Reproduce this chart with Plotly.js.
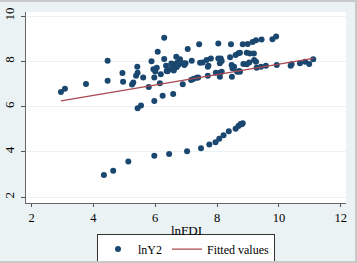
<!DOCTYPE html>
<html><head><meta charset="utf-8">
<script src="https://cdn.plot.ly/plotly-3.0.1.min.js"></script>
<style>
html,body{margin:0;padding:0;background:#EAF2F3;}
#wrap{position:relative;width:357px;height:263px;}
#chart{width:357px;height:263px;}
#frame{position:absolute;left:0;top:0;width:357px;height:263px;box-sizing:border-box;border-top:2px solid #c8c8c8;border-right:2px solid #c8c8c8;border-bottom:2px solid #c8c8c8;pointer-events:none;}
</style></head>
<body><div id="wrap"><div id="chart"></div><div id="frame"></div></div>
<script>
const lnFDI = [2.95,3.08,3.76,4.46,4.46,4.94,4.96,5.25,5.29,5.38,5.43,5.42,5.61,5.79,5.43,5.54,
5.88,5.97,5.94,6.05,6.08,6.15,6.24,5.97,6.29,6.29,6.40,6.18,6.58,6.68,6.80,
6.50,6.55,6.58,6.62,6.65,6.70,6.72,6.60,6.75,6.52,6.35,6.37,6.00,
7.05,7.42,8.04,8.45,8.83,8.99,9.15,9.26,9.44,9.79,9.91,
6.91,6.98,7.18,7.45,7.53,7.66,7.80,8.04,8.12,8.09,8.15,8.42,8.60,8.69,8.74,8.96,9.06,9.19,
6.94,7.72,7.70,8.47,8.55,8.50,8.85,8.96,9.04,9.20,9.26,9.28,9.42,9.58,9.93,10.38,10.41,10.68,10.85,10.98,11.11,
6.89,7.16,7.23,7.34,7.39,7.70,7.96,8.09,8.15,8.09,8.48,8.65,8.72,8.74,
4.34,4.64,5.13,5.97,6.45,7.03,7.48,7.75,7.95,8.07,8.21,8.38,8.60,8.69,8.76,8.83,8.80];
const lnY2 = [6.64,6.79,7.00,8.03,7.14,7.48,7.10,6.98,7.07,7.36,7.50,7.76,7.29,6.87,5.93,6.05,
8.00,7.29,7.65,7.72,8.42,7.03,6.48,6.25,9.04,8.10,7.56,7.43,6.56,8.20,8.09,
7.65,7.72,7.80,7.68,7.88,7.75,7.95,7.60,7.85,7.90,7.81,7.57,7.55,
8.54,8.75,8.79,8.76,8.76,8.77,8.85,8.93,8.97,8.98,9.10,
7.91,7.91,8.03,7.94,7.95,8.06,8.13,8.13,8.13,7.91,8.01,8.18,8.28,8.36,8.38,8.38,8.35,8.35,
7.84,7.81,7.76,7.84,7.76,7.69,7.88,7.87,7.95,8.06,7.98,7.72,7.76,7.81,7.84,7.81,7.87,7.91,7.98,7.88,8.09,
6.99,7.17,7.22,7.28,7.29,7.36,7.50,7.50,7.54,7.32,7.32,7.54,7.57,7.54,
2.98,3.17,3.57,3.83,3.91,4.03,4.16,4.32,4.42,4.58,4.73,4.91,5.02,5.14,5.23,5.26,5.22];
const fitX = [2.95, 11.11];
const fitY = [6.25, 8.13];
const xTicks = [2,4,6,8,10,12];
const yTicks = [2,4,6,8,10];
const seriesNames = ["lnY2", "Fitted values"];
const xTitle = "lnFDI";

const font = "Liberation Serif, Times New Roman, serif";
const traces = [
  {x: lnFDI, y: lnY2, type: "scatter", mode: "markers", name: seriesNames[0],
   marker: {color: "#1A476F", size: 6}},
  {x: fitX, y: fitY, type: "scatter", mode: "lines", name: seriesNames[1],
   line: {color: "#a8484e", width: 1.2}}
];
const layout = {
  width: 357, height: 263,
  margin: {l: 26, r: 11, t: 12, b: 60},
  paper_bgcolor: "#EAF2F3", plot_bgcolor: "#ffffff",
  font: {family: font, color: "#000", size: 12},
  showlegend: true,
  legend: {orientation: "h", x: 0.5, xanchor: "center", yref: "container", y: 0.112, yanchor: "top",
    bgcolor: "#ffffff", bordercolor: "#333", borderwidth: 1,
    font: {family: font, size: 12, color: "#000"}, itemwidth: 30, tracegroupgap: 0},
  xaxis: {range: [1.82, 12.17], tickvals: xTicks, ticks: "outside", ticklen: 3, tickcolor: "#555",
    automargin: false,
    showline: true, linecolor: "#666", linewidth: 1, showgrid: false, zeroline: false,
    ticklabelstandoff: 0,
    tickfont: {family: font, size: 12.5, color: "#000"}},
  yaxis: {range: [1.74, 10.18], tickvals: yTicks, ticks: "outside", ticklen: 4, tickcolor: "#555",
    automargin: false,
    tickangle: -90, showline: true, linecolor: "#666", linewidth: 1,
    ticklabelstandoff: 2,
    showgrid: true, gridcolor: "#EAF2F3", gridwidth: 1, zeroline: false,
    tickfont: {family: font, size: 13, color: "#000"}},
  annotations: [{text: xTitle, xref: "paper", yref: "paper", x: 0.5, y: 0, yanchor: "top",
    yshift: -18, showarrow: false, font: {family: font, size: 13, color: "#000"}}]
};
Plotly.newPlot("chart", traces, layout, {displayModeBar: false, staticPlot: true});
</script>
</body></html>
